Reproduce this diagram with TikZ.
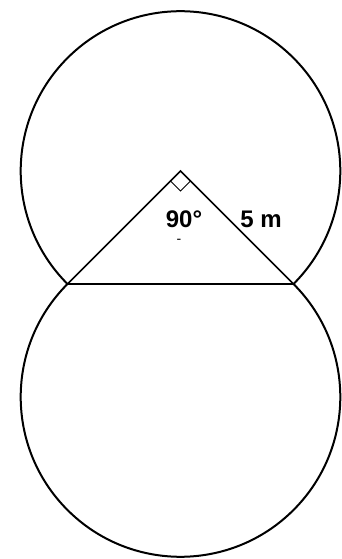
\documentclass[tikz,border=0pt]{standalone}
\usepackage{fontspec}
\setmainfont{Liberation Sans}
\usepackage{tikz}
\usetikzlibrary{calc}

\begin{document}
\begin{tikzpicture}[x=1pt, y=1pt, line width=2pt,
    every node/.style={font=\fontsize{24}{24}\selectfont\bfseries}]
\useasboundingbox (0,0) rectangle (341,559);

% Corners of the triangle
\coordinate (apex) at (180.5,388);
\coordinate (L) at (67.5,275);
\coordinate (R) at (293.5,275);

% Upper circle round the apex
\draw (L) arc[start angle=225, end angle=-45, radius=159.8];

% Lower circle below the base
\draw (L) arc[start angle=135, end angle=405, radius=159.8];

% Triangle
\draw[line width=1.7pt] (L) -- (apex) -- (R) -- cycle;

% Right angle mark
\draw[line width=1pt] ($(apex)+(-10,-10)$) -- ++(10,-10) -- ++(10,10);

% Labels
\node (ang) at (184,340) {90°};
\node (len) at (261,340) {5 m};
\node[font=\fontsize{14}{14}\selectfont] (dash) at (179,318) {-};

\end{tikzpicture}
\end{document}
